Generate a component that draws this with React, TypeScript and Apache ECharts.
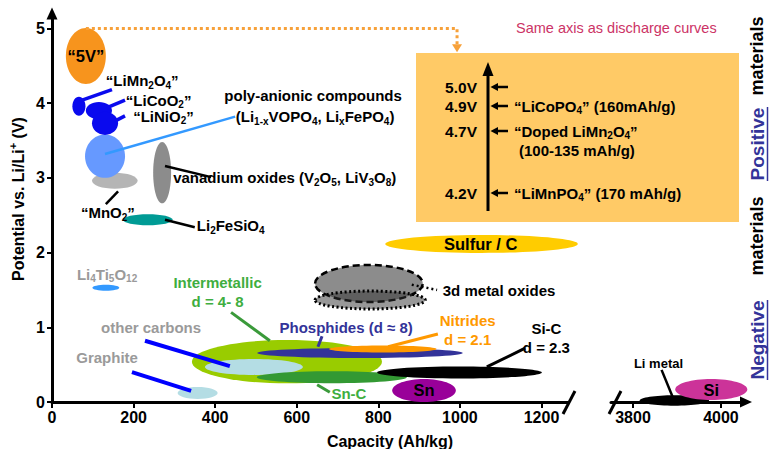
import React, { useEffect, useRef } from 'react';
import * as echarts from 'echarts';

const FONT = '"Liberation Sans", Arial, Helvetica, sans-serif';

// ---- axes ----
const X_TICKS_LEFT = [0, 200, 400, 600, 800, 1000, 1200];
const X_TICKS_RIGHT = [3800, 4000];
const Y_TICKS = [0, 1, 2, 3, 4, 5];

// ---- material regions: [name, capacity centre (Ah/kg), potential centre (V), capacity half-span, potential half-span]
const LEFT_REGIONS: [string, number, number, number, number][] = [
  ['5V', 83, 4.63, 49, 0.375],
  ['MnO2', 154, 2.96, 56, 0.107],
  ['Vanadium', 270, 3.07, 22, 0.41],
  ['Polyanionic', 130, 3.29, 49, 0.29],
  ['LiMn2O4', 66, 3.96, 16, 0.127],
  ['LiCoO2', 115, 3.9, 32, 0.115],
  ['LiNiO2', 130, 3.73, 32, 0.155],
  ['Li2FeSiO4', 235, 2.44, 61, 0.074],
  ['Li4Ti5O12', 132, 1.53, 33, 0.04],
  ['Sulfur', 1053, 2.115, 236, 0.12],
  ['Oxides3dTop', 777, 1.586, 132, 0.248],
  ['Oxides3dBottom', 780, 1.365, 135, 0.12],
  ['Intermetallic', 576, 0.54, 233, 0.29],
  ['OtherCarbons', 495, 0.47, 120, 0.107],
  ['Phosphides', 755, 0.656, 252, 0.067],
  ['Nitrides', 811, 0.71, 132, 0.047],
  ['SnC', 686, 0.33, 184, 0.08],
  ['SiC', 999, 0.395, 202, 0.08],
  ['Sn', 912, 0.154, 78, 0.154],
  ['Graphite', 357, 0.12, 49, 0.08],
];
const RIGHT_REGIONS: [string, number, number, number, number][] = [
  ['LiMetal', 3894, 0.02, 79, 0.07],
  ['Si', 3978, 0.167, 82, 0.14],
];

// ---- leader lines: [style, x1, y1, x2, y2] in (Ah/kg, V)
const LEFT_LEADERS: [string, number, number, number, number][] = [
  ['blue', 68.6, 4.03, 147, 4.18],
  ['blue', 135, 3.94, 179, 4.04],
  ['blue', 154, 3.76, 179, 3.83],
  ['lightblue', 130, 3.32, 449, 3.82],
  ['black', 277, 3.16, 390, 3.01],
  ['black', 162, 2.82, 132, 2.65],
  ['black', 277, 2.44, 350, 2.34],
  ['bluethick', 196, 0.4, 341, 0.15],
  ['bluethick', 228, 0.82, 436, 0.48],
  ['green', 439, 1.2, 534, 0.82],
  ['navy', 662, 0.88, 652, 0.74],
  ['orange', 946, 0.91, 824, 0.74],
  ['black3', 1066, 0.47, 1160, 0.72],
  ['green', 650, 0.23, 681, 0.13],
  ['dotted', 882, 1.57, 944, 1.5],
];
const RIGHT_LEADERS: [string, number, number, number, number][] = [
  ['black', 3865, 0.43, 3890, 0.07],
];

// ---- labels: [style, text, x, y] in (Ah/kg, V)
const LEFT_LABELS: [string, string, number, number][] = [
  ['big', '“5V”', 83, 4.63],
  ['darkL', '“LiMn_2O_4”', 132, 4.3],
  ['darkL', '“LiCoO_2”', 181, 4.04],
  ['darkL', '“LiNiO_2”', 199, 3.825],
  ['dark', 'poly-anionic compounds', 640, 4.1],
  ['dark', '(Li_{1-x}VOPO_4, Li_xFePO_4)', 645, 3.82],
  ['darkL', 'vanadium oxides (V_2O_5, LiV_3O_8)', 297, 3.0],
  ['dark', '“MnO_2”', 137, 2.53],
  ['darkL', 'Li_2FeSiO_4', 355, 2.36],
  ['grey', 'Li_4Ti_5O_{12}', 135, 1.71],
  ['green', 'Intermetallic\nd = 4- 8', 406, 1.466],
  ['grey', 'other carbons', 243, 1.0],
  ['grey', 'Graphite', 135, 0.59],
  ['navy', 'Phosphides (d ≈ 8)', 721, 1.0],
  ['orange', 'Nitrides\nd = 2.1', 1019, 0.964],
  ['dark', 'Si-C\nd = 2.3', 1212, 0.863],
  ['green', 'Sn-C', 728, 0.12],
  ['big', 'Sn', 912, 0.16],
  ['darkL', '3d metal oxides', 958, 1.49],
  ['big', 'Sulfur / C', 1051, 2.115],
];
const RIGHT_LABELS: [string, string, number, number][] = [
  ['small', 'Li metal', 3858, 0.51],
  ['big', 'Si', 3978, 0.167],
];

// dotted link from the 5 V level to the inset
const LINK_PATH: [number, number][] = [[83, 5.0], [993, 5.0], [993, 4.79]];

// inset ("same axis as discharge curves")
const INSET_VOLTS = ['5.0V', '4.9V', '4.7V', '4.2V'];
const INSET_NOTES = ['', '“LiCoPO_4” (160mAh/g)', '“Doped LiMn_2O_4”', '“LiMnPO_4” (170 mAh/g)'];
const INSET_NOTE_2 = '(100-135 mAh/g)';
const SIDE_TEXTS: [string, boolean][] = [['materials', false], ['Positive', true], ['materials', false], ['Negative', true]];

// ---- styles (kept apart from data) ----
const REGION_STYLE: Record<string, any> = {
  '5V': { fill: '#F7941D' },
  MnO2: { fill: '#B5B5B5' },
  Vanadium: { fill: '#8C8C8C' },
  Polyanionic: { fill: '#6699FF' },
  LiMn2O4: { fill: '#0A0AEE' },
  LiCoO2: { fill: '#0A0AEE' },
  LiNiO2: { fill: '#0A0AEE' },
  Li2FeSiO4: { fill: '#009B95' },
  Li4Ti5O12: { fill: '#3399FF' },
  Sulfur: { fill: '#FFCC00' },
  Oxides3dTop: { fill: '#8C8C8C', stroke: '#000', lineWidth: 2.5, lineDash: [7, 4] },
  Oxides3dBottom: { fill: 'rgba(50,50,50,0.5)', stroke: '#000', lineWidth: 3, lineDash: [2, 2.5] },
  Intermetallic: { fill: '#99CC00' },
  OtherCarbons: { fill: '#B4DDE4' },
  Phosphides: { fill: '#333399' },
  Nitrides: { fill: '#FF9900' },
  SnC: { fill: '#339933' },
  SiC: { fill: '#000000' },
  Sn: { fill: '#990099' },
  Graphite: { fill: '#B4DDE4' },
  LiMetal: { fill: '#000000' },
  Si: { fill: '#CC3399' },
};
const LEADER_STYLE: Record<string, any> = {
  blue: { stroke: '#0A0AEE', lineWidth: 3.5 },
  lightblue: { stroke: '#3399FF', lineWidth: 2.5 },
  black: { stroke: '#000', lineWidth: 2.5 },
  black3: { stroke: '#000', lineWidth: 3 },
  bluethick: { stroke: '#0000FF', lineWidth: 4 },
  green: { stroke: '#3A9A3A', lineWidth: 3 },
  navy: { stroke: '#333399', lineWidth: 3 },
  orange: { stroke: '#FF9900', lineWidth: 3 },
  dotted: { stroke: '#000', lineWidth: 2.5, lineDash: [2, 3] },
};
const LABEL_STYLE: Record<string, any> = {
  dark: { color: '#000', size: 15, align: 'center' },
  darkL: { color: '#000', size: 15, align: 'left' },
  big: { color: '#000', size: 16.5, align: 'center' },
  small: { color: '#000', size: 13, align: 'center' },
  grey: { color: '#9A9A9A', size: 15, align: 'center' },
  green: { color: '#3FAE3F', size: 15, align: 'center' },
  navy: { color: '#333399', size: 15, align: 'center' },
  orange: { color: '#FF9900', size: 15, align: 'center' },
};

function toRich(s: string): string {
  return s.replace(/_\{([^}]*)\}|_(.)|\^\{([^}]*)\}|\^(.)/g, (_m, a, b, c, d) =>
    a != null ? `{s|${a}}` : b != null ? `{s|${b}}` : c != null ? `{p|${c}}` : `{p|${d}}`);
}
function richFor(size: number, weight: string, color: string) {
  const small = Math.round(size * 0.68);
  return {
    s: { fontSize: small, fontWeight: weight, fontFamily: FONT, fill: color, lineHeight: 8, height: 7, verticalAlign: 'bottom' },
    p: { fontSize: small, fontWeight: weight, fontFamily: FONT, fill: color, lineHeight: 8, height: 7, verticalAlign: 'top' },
  };
}
function textEl(markup: string, x: number, y: number, st: any): any {
  const size = st.size ?? 15;
  const weight = st.weight ?? 'bold';
  const color = st.color ?? '#000';
  const lh = st.lineHeight ?? (markup.includes('\n') ? 19 : Math.round(size + 1));
  return {
    type: 'text',
    x, y,
    rotation: st.rotation ?? 0,
    style: {
      text: toRich(markup),
      fill: color,
      fontSize: size,
      fontWeight: weight,
      fontFamily: FONT,
      lineHeight: lh,
      align: st.align ?? 'center',
      verticalAlign: st.verticalAlign ?? 'middle',
      rich: richFor(size, weight, color),
    },
  };
}

function regionSeries(regions: [string, number, number, number, number][], axis: number) {
  return {
    type: 'custom', xAxisIndex: axis, yAxisIndex: axis, silent: true, clip: false, z: 2,
    data: regions.map((r) => [r[1], r[2], r[3], r[4]]),
    renderItem: (params: any, api: any) => {
      const name = regions[params.dataIndex][0];
      const c = api.coord([api.value(0), api.value(1)]);
      const s = api.size([api.value(2), api.value(3)]);
      return { type: 'ellipse', shape: { cx: c[0], cy: c[1], rx: s[0], ry: s[1] }, style: { ...REGION_STYLE[name] } };
    },
  };
}
function leaderSeries(leaders: [string, number, number, number, number][], axis: number) {
  return {
    type: 'custom', xAxisIndex: axis, yAxisIndex: axis, silent: true, clip: false, z: 3,
    data: leaders.map((l) => [l[1], l[2], l[3], l[4]]),
    renderItem: (params: any, api: any) => {
      const st = LEADER_STYLE[leaders[params.dataIndex][0]];
      const p1 = api.coord([api.value(0), api.value(1)]);
      const p2 = api.coord([api.value(2), api.value(3)]);
      return { type: 'line', shape: { x1: p1[0], y1: p1[1], x2: p2[0], y2: p2[1] }, style: { ...st, fill: null } };
    },
  };
}
function labelSeries(labels: [string, string, number, number][], axis: number) {
  return {
    type: 'custom', xAxisIndex: axis, yAxisIndex: axis, silent: true, clip: false, z: 4,
    data: labels.map((l) => [l[2], l[3]]),
    renderItem: (params: any, api: any) => {
      const l = labels[params.dataIndex];
      const c = api.coord([api.value(0), api.value(1)]);
      return textEl(l[1], c[0], c[1], LABEL_STYLE[l[0]]);
    },
  };
}

const linkSeries = {
  type: 'custom', xAxisIndex: 0, yAxisIndex: 0, silent: true, clip: false, z: 3,
  data: [[LINK_PATH[0][0], LINK_PATH[0][1]]],
  renderItem: (_p: any, api: any) => {
    const pts = LINK_PATH.map((p) => api.coord(p));
    const end = pts[pts.length - 1];
    return {
      type: 'group',
      children: [
        { type: 'polyline', shape: { points: pts }, style: { stroke: '#F7A13A', lineWidth: 3, lineDash: [3, 3], fill: null } },
        { type: 'polygon', shape: { points: [[end[0] - 5, end[1]], [end[0] + 5, end[1]], [end[0], end[1] + 8]] }, style: { fill: '#F7A13A' } },
      ],
    };
  },
};

// ---- inset / decoration (pixel layout) ----
const INSET_Y = [87, 106, 131, 193];
const SIDE_Y = [56, 144, 236, 340];
function buildGraphic(): any[] {
  const g: any[] = [];
  g.push({ type: 'rect', shape: { x: 416, y: 53, width: 323, height: 169 }, style: { fill: '#FFCA66' }, z: -1 });
  g.push({ type: 'line', shape: { x1: 488, y1: 211, x2: 488, y2: 72 }, style: { stroke: '#000', lineWidth: 3 } });
  g.push({ type: 'polygon', shape: { points: [[488, 62], [482.5, 76], [493.5, 76]] }, style: { fill: '#000' } });
  INSET_VOLTS.forEach((v, i) => {
    const y = INSET_Y[i];
    g.push(textEl(v, 477, y, { size: 15.5, align: 'right' }));
    g.push({ type: 'line', shape: { x1: 508, y1: y, x2: 496, y2: y }, style: { stroke: '#000', lineWidth: 2.5 } });
    g.push({ type: 'polygon', shape: { points: [[490.5, y], [498, y - 4], [498, y + 4]] }, style: { fill: '#000' } });
    if (INSET_NOTES[i]) g.push(textEl(INSET_NOTES[i], 514, y, { size: 15, align: 'left' }));
  });
  g.push(textEl(INSET_NOTE_2, 519, 150, { size: 15, align: 'left' }));
  g.push(textEl('Same axis as discharge curves', 516, 28, { size: 14.5, weight: 'normal', color: '#CC3366', align: 'left' }));

  SIDE_TEXTS.forEach(([t, under], i) => {
    const color = under ? '#333399' : '#000';
    const size = under ? 19 : 18;
    g.push(textEl(t, 757, SIDE_Y[i], { size, weight: 'bold', color, rotation: Math.PI / 2 }));
    if (under) {
      const half = t === 'Positive' ? 37 : 40;
      g.push({ type: 'line', shape: { x1: 767.5, y1: SIDE_Y[i] - half, x2: 767.5, y2: SIDE_Y[i] + half }, style: { stroke: color, lineWidth: 1.5 } });
    }
  });

  // axis breaks
  g.push({ type: 'line', shape: { x1: 563, y1: 414, x2: 575, y2: 391 }, style: { stroke: '#000', lineWidth: 3 } });
  g.push({ type: 'line', shape: { x1: 609, y1: 414, x2: 621, y2: 391 }, style: { stroke: '#000', lineWidth: 3 } });

  // axis names
  g.push(textEl('Potential vs. Li/Li^+ (V)', 18, 199, { size: 16, rotation: Math.PI / 2 }));
  g.push(textEl('Capacity (Ah/kg)', 390, 441, { size: 16 }));
  return g;
}

const axisLabelStyle = {
  color: '#000', fontSize: 16, fontWeight: 'bold', fontFamily: FONT, margin: 7,
  formatter: (v: number) => String(v),
};

const option: any = {
  animation: false,
  grid: [
    { left: 52, top: 13.5, width: 516, height: 388.5 },
    { left: 611, top: 13.5, width: 135, height: 388.5 },
  ],
  xAxis: [
    {
      type: 'value', gridIndex: 0, min: 0, max: 1265,
      axisLine: { show: true, onZero: false, lineStyle: { color: '#000', width: 3 } },
      axisTick: { show: true, length: 6, customValues: X_TICKS_LEFT, lineStyle: { color: '#000', width: 2 } },
      axisLabel: { ...axisLabelStyle, customValues: X_TICKS_LEFT },
      splitLine: { show: false },
    },
    {
      type: 'value', gridIndex: 1, min: 3750, max: 4057,
      axisLine: { show: true, onZero: false, symbol: ['none', 'triangle'], symbolSize: [11, 12], lineStyle: { color: '#000', width: 3 } },
      axisTick: { show: true, length: 6, customValues: X_TICKS_RIGHT, lineStyle: { color: '#000', width: 2 } },
      axisLabel: { ...axisLabelStyle, customValues: X_TICKS_RIGHT },
      splitLine: { show: false },
    },
  ],
  yAxis: [
    {
      type: 'value', gridIndex: 0, min: 0, max: 5.2,
      axisLine: { show: true, onZero: false, symbol: ['none', 'triangle'], symbolSize: [11, 12], lineStyle: { color: '#000', width: 3 } },
      axisTick: { show: true, length: 5, customValues: Y_TICKS, lineStyle: { color: '#000', width: 2 } },
      axisLabel: { ...axisLabelStyle, customValues: Y_TICKS },
      splitLine: { show: false },
    },
    { type: 'value', gridIndex: 1, min: 0, max: 5.2, show: false, splitLine: { show: false } },
  ],
  graphic: buildGraphic(),
  series: [
    regionSeries(LEFT_REGIONS, 0),
    regionSeries(RIGHT_REGIONS, 1),
    leaderSeries(LEFT_LEADERS, 0),
    leaderSeries(RIGHT_LEADERS, 1),
    linkSeries,
    labelSeries(LEFT_LABELS, 0),
    labelSeries(RIGHT_LABELS, 1),
  ],
};

export default function App() {
  const ref = useRef<HTMLDivElement>(null);
  useEffect(() => {
    const chart = echarts.init(ref.current!, undefined, { renderer: 'svg' });
    chart.setOption(option);
    return () => chart.dispose();
  }, []);
  return <div ref={ref} style={{ position: 'fixed', left: 0, top: 0, width: 769, height: 449, background: '#fff' }} />;
}
